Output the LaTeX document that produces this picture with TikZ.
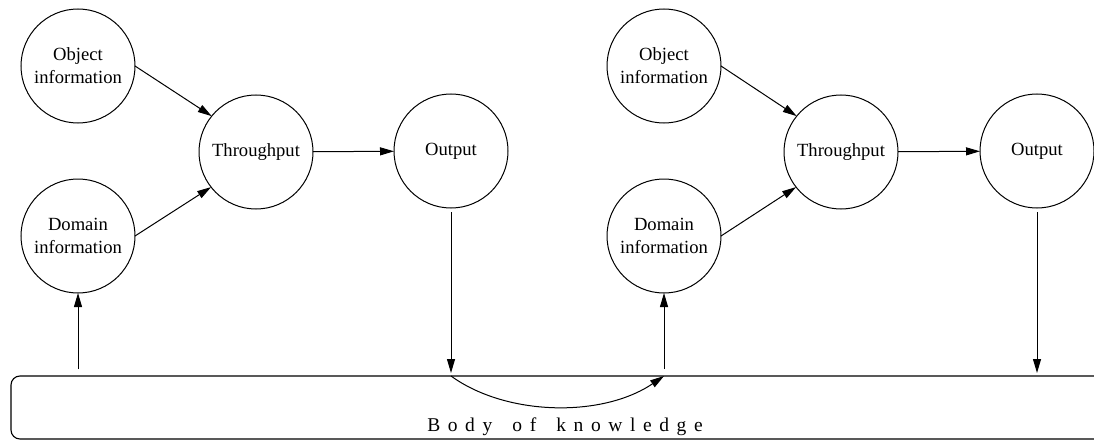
\documentclass[tikz,border=0pt]{standalone}
\usepackage{fontspec}
\setmainfont{Liberation Serif}
\usetikzlibrary{arrows.meta}
\newcommand{\spaced}[1]{#1\hspace{7.6pt}}
\begin{document}
\begin{tikzpicture}[x=1pt,y=-1pt,
  font=\fontsize{18.6}{23}\selectfont,
  stage/.style={circle,draw,line width=1pt,minimum size=114pt,inner sep=0pt,
    outer sep=0pt,align=center},
  flow/.style={line width=1pt,-{Triangle[length=14pt,width=8pt]}},
  kbox/.style={draw,line width=1.1pt,rounded corners=9pt,minimum width=1108pt,
    minimum height=63pt,inner sep=0pt,outer sep=0pt}]
\useasboundingbox (0,0) rectangle (1094,441);

% first cycle
\node[stage] (obj1) at (78,66)  {Object\\information};
\node[stage] (dom1) at (78,236) {Domain\\information};
\node[stage] (thr1) at (256,152) {Throughput};
\node[stage] (out1) at (451,151) {Output};

% second cycle
\node[stage] (obj2) at (664,66)  {Object\\information};
\node[stage] (dom2) at (664,236) {Domain\\information};
\node[stage] (thr2) at (841,152) {Throughput};
\node[stage] (out2) at (1037,151) {Output};

% shared body of knowledge
\node[kbox] (body) at (565,407.5) {};
\node[anchor=base,font=\fontsize{19.5}{23}\selectfont] (bodytext) at (565,431)
  {\spaced{B}\spaced{o}\spaced{d}\spaced{y}\spaced{ }\spaced{o}\spaced{f}\spaced{ }\spaced{k}\spaced{n}\spaced{o}\spaced{w}\spaced{l}\spaced{e}\spaced{d}\spaced{g}e};

\coordinate (in1)  at (body.north -| dom1);
\coordinate (ret1) at (body.north -| out1);
\coordinate (in2)  at (body.north -| dom2);
\coordinate (ret2) at (body.north -| out2);

% inputs to throughput
\draw[flow] (obj1.east) -- (thr1.141);
\draw[flow] (dom1.east) -- (thr1.218);
\draw[flow] (thr1) -- (out1);
\draw[flow] (obj2.east) -- (thr2.141);
\draw[flow] (dom2.east) -- (thr2.218);
\draw[flow] (thr2) -- (out2);

% exchange with the body of knowledge
\draw[flow,shorten <=7pt] (in1) -- (dom1.south);
\draw[flow,shorten <=4pt,shorten >=3pt] (out1.south) -- (ret1);
\draw[flow] (ret1) .. controls +(55,40) and +(-62,42) .. (in2);
\draw[flow,shorten <=7pt] (in2) -- (dom2.south);
\draw[flow,shorten <=4pt,shorten >=3pt] (out2.south) -- (ret2);
\end{tikzpicture}
\end{document}
